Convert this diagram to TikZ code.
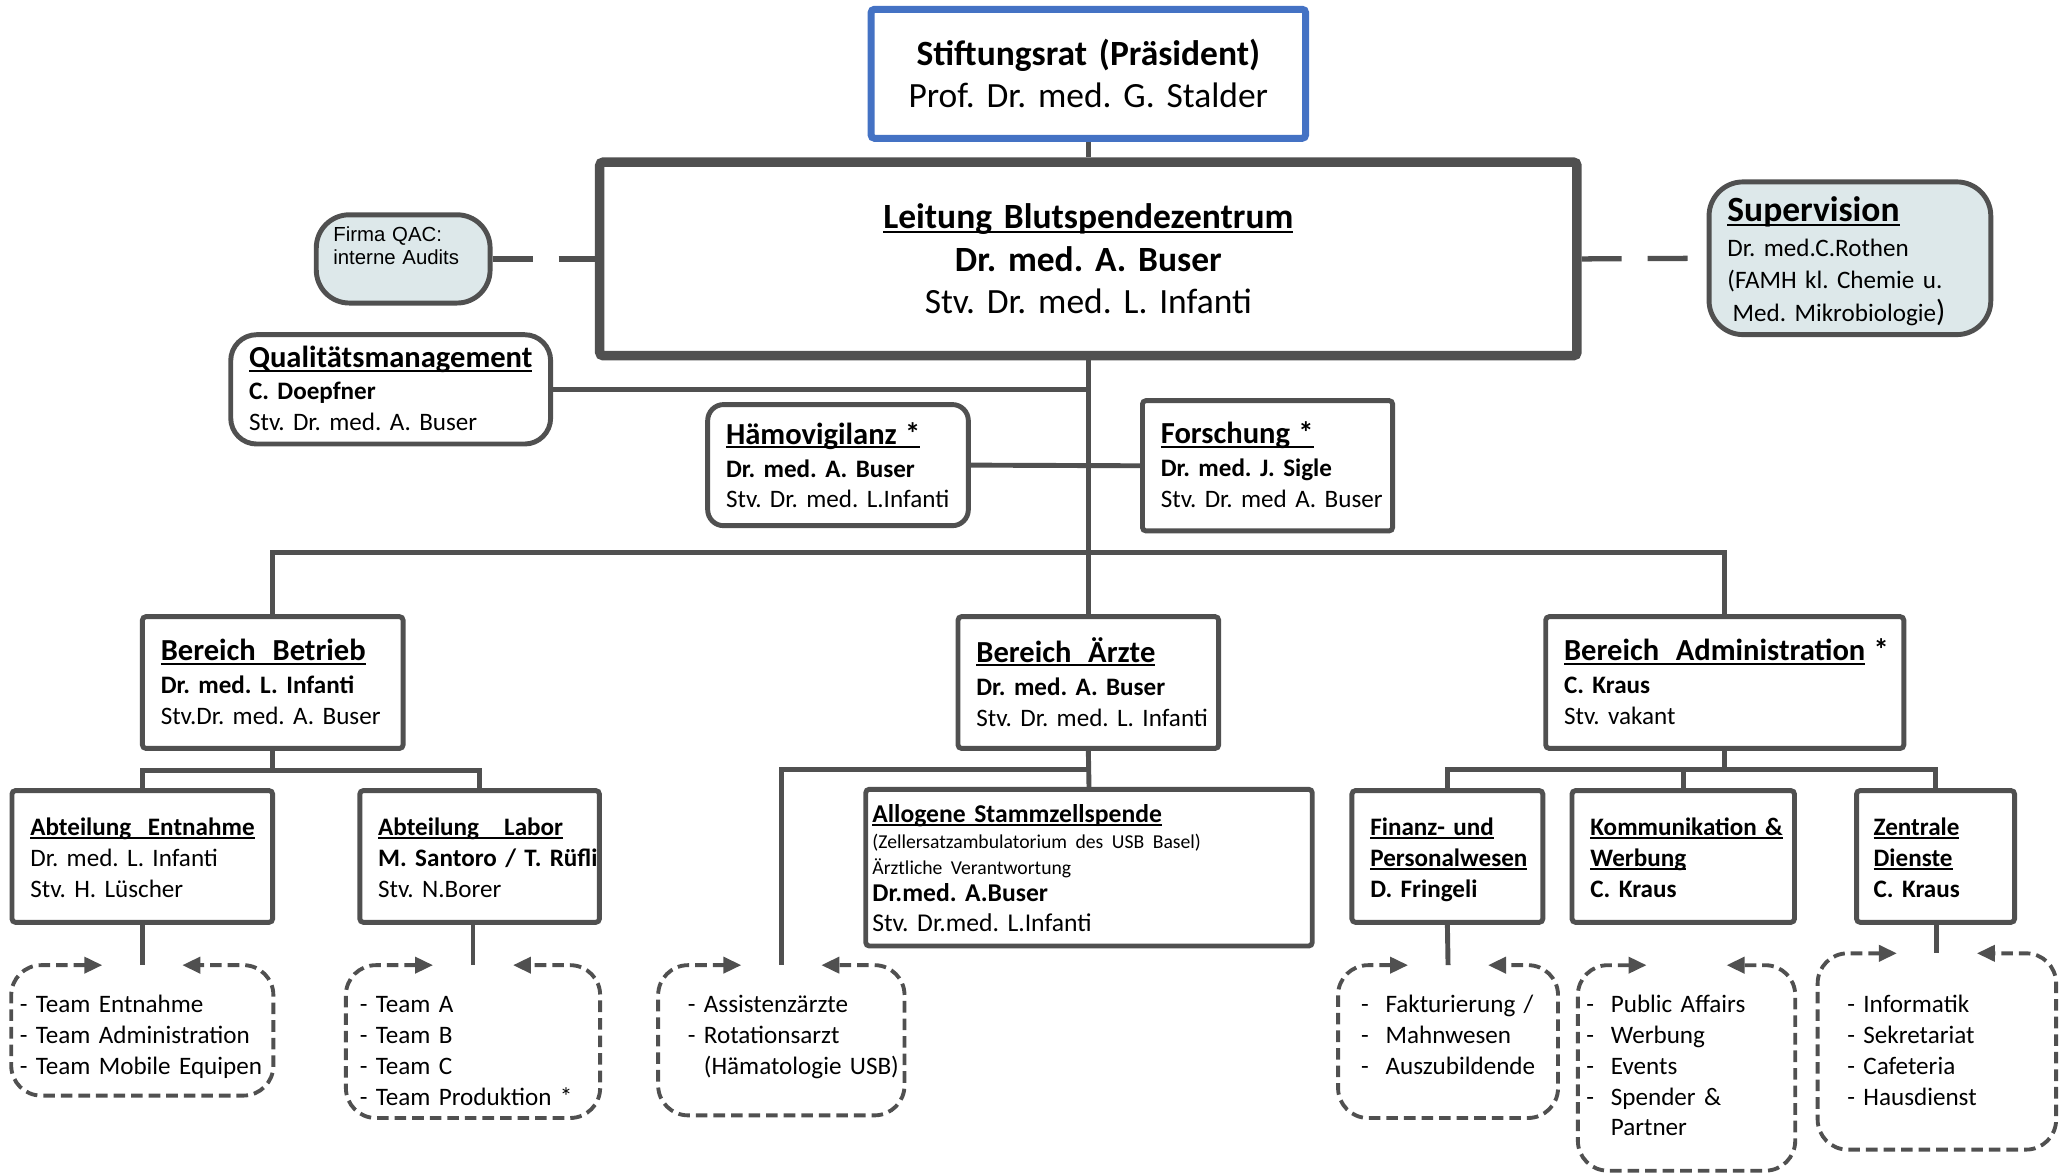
\documentclass[tikz,border=0pt]{standalone}
\usepackage{fontspec}
\setmainfont{Carlito}
\newfontfamily\arialfont{Liberation Sans}
\usepackage{tikz}
\usepackage{xcolor}
\usetikzlibrary{arrows.meta}
\frenchspacing
\definecolor{linegray}{RGB}{80,80,80}
\definecolor{boardblue}{RGB}{68,114,196}
\definecolor{auditfill}{RGB}{221,232,234}
\newcommand{\fbig}{\fontsize{10.1}{11.9}\selectfont}
\newcommand{\fmid}{\fontsize{8.7}{9.6}\selectfont}
\newcommand{\fsml}{\fontsize{7.15}{8.8}\selectfont}
\newcommand{\ftny}{\fontsize{5.6}{7}\selectfont}
\newcommand{\uln}[1]{\setbox0=\hbox{#1}\rlap{\rule[-0.13em]{\wd0}{0.065em}}\box0\relax}
\newcommand{\boxlines}[2][2.2pt]{\vbox{\kern#1\hbox{\begin{tabular}{@{}l@{}}#2\end{tabular}}}}
\tikzset{%
	orgline/.style  = {draw=linegray, line width=1.4pt},
	orgbox/.style   = {draw=linegray, line width=1.4pt, rectangle, rounded corners=1pt, fill=white, inner xsep=0.184cm, inner ysep=0pt, font=\fsml},
	softbox/.style  = {orgbox, rounded corners=0.26cm},
	notebox/.style  = {orgbox, fill=auditfill, rounded corners=0.34cm},
	teambox/.style  = {rectangle, inner ysep=0pt, font=\fsml}, % text of a dashed group
	teamline/.style = {draw=linegray, line width=1.1pt, dash pattern=on 3.3pt off 1.7pt, rounded corners=0.3cm, arrows={Triangle[length=0.18cm,width=0.16cm]-Triangle[length=0.18cm,width=0.16cm]}},
	linkline/.style = {draw=linegray, line width=1.5pt, dash pattern=on 0.4cm off 0.26cm},
}
\begin{document}
\begin{tikzpicture}[x=0.013176cm,y=-0.013176cm]
	\useasboundingbox (0,0) rectangle (1568,890);
	% top
	\node [orgbox, draw=boardblue, line width=2pt, font=\fbig, align=center, text width=3.98cm, minimum height=1.291cm] (stift) at (826,56) {\textbf{Stiftungsrat (Präsident)}\\ Prof. Dr. med. G. Stalder};
	\node [orgbox, line width=2.7pt, font=\fbig, align=center, text width=9.41cm, minimum height=1.937cm] (leit) at (826,196.5) {{\bfseries\uln{Leitung Blutspendezentrum}}\\[0.4pt] \textbf{Dr. med. A. Buser}\\ Stv. Dr. med. L. Infanti};
	\node [notebox, rounded corners=0.33cm, font=\arialfont\fontsize{5.8}{6.7}\selectfont, inner xsep=0.171cm, text width=1.397cm, minimum height=0.883cm] (qac) at (306,196.5) {\boxlines[1.5pt]{Firma QAC:\\ interne Audits\\[7.5pt]}};
	\node [notebox, text width=2.451cm, minimum height=1.528cm] (sup) at (1404,196) {\boxlines[3pt]{{\fbig\bfseries\uln{Supervision}}\\[1pt] Dr. med.C.Rothen\\[0.3pt] (FAMH kl. Chemie u.\\[0.4pt] \hspace{1.5pt}Med. Mikrobiologie{\fontsize{8.7}{8.8}\selectfont)}}};
	\node [softbox, text width=2.833cm, minimum height=1.094cm] (qm) at (296.5,295.5) {\boxlines{{\fmid\bfseries\uln{Qualitätsmanagement}}\\[0.3pt] \textbf{C. Doepfner}\\ Stv. Dr. med. A. Buser}};
	\node [softbox, rounded corners=0.16cm, text width=2.24cm, minimum height=1.212cm] (hamo) at (636,353) {\boxlines[2.6pt]{{\fmid\bfseries\uln{Hämovigilanz *}}\\[0.6pt] \textbf{Dr. med. A. Buser}\\ Stv. Dr. med. L.Infanti}};
	\node [orgbox, text width=2.135cm, minimum height=1.304cm] (forsch) at (962,353.5) {\boxlines{{\fmid\bfseries\uln{Forschung *}}\\[0.6pt] \textbf{Dr. med. J. Sigle}\\ Stv. Dr. med A. Buser}};
	
	% Bereiche
	\node [orgbox, text width=2.24cm, minimum height=1.318cm] (betr) at (207,518) {\boxlines{{\fmid\bfseries\uln{Bereich\ \ Betrieb}}\\[0.6pt] \textbf{Dr. med. L. Infanti}\\ Stv.Dr. med. A. Buser}};
	\node [orgbox, text width=2.24cm, minimum height=1.318cm] (aerz) at (826,518) {\boxlines{{\fmid\bfseries\uln{Bereich\ \ Ärzte}}\\[0.6pt] \textbf{Dr. med. A. Buser}\\ Stv. Dr. med. L. Infanti}};
	\node [orgbox, text width=3.215cm, minimum height=1.318cm] (adm) at (1309,518) {\boxlines{{\fmid\bfseries\uln{Bereich\ \ Administration} *}\\[0.6pt] \textbf{C. Kraus}\\ Stv. vakant}};
	
	% Abteilungen
	\node [orgbox, text width=2.24cm, minimum height=1.318cm] (ent) at (108,650) {\boxlines{\textbf{\uln{Abteilung\ \ Entnahme}}\\ Dr. med. L. Infanti\\ Stv. H. Lüscher}};
	\node [orgbox, text width=2.029cm, minimum height=1.318cm] (lab) at (364,650) {\boxlines{\textbf{\uln{Abteilung\ \ \ Labor}}\\ \textbf{M. Santoro / T. Rüfli}\\ Stv. N.Borer}};
	\node [orgbox, font=\fontsize{7.3}{7.5}\selectfont, inner xsep=0.066cm, text width=4.335cm, minimum height=1.568cm] (allo) at (826.5,658.5) {\boxlines{\textbf{\uln{Allogene Stammzellspende}}\\ {\ftny (Zellersatzambulatorium des USB Basel)}\\ {\ftny Ärztliche Verantwortung}\\ \textbf{Dr.med. A.Buser}\\[1.1pt] Stv. Dr.med. L.Infanti}};
	\node [orgbox, text width=1.542cm, minimum height=1.318cm] (fin) at (1098.5,650) {\boxlines{\textbf{\uln{Finanz- und}}\\ \textbf{\uln{Personalwesen}}\\ \textbf{D. Fringeli}}};
	\node [orgbox, text width=1.858cm, minimum height=1.318cm] (kom) at (1277.5,650) {\boxlines{\textbf{\uln{Kommunikation \&}}\\ \textbf{\uln{Werbung}}\\ \textbf{C. Kraus}}};
	\node [orgbox, inner xsep=0.171cm, text width=1.239cm, minimum height=1.318cm] (zen) at (1469,650) {\boxlines{\textbf{\uln{Zentrale}}\\ \textbf{\uln{Dienste}}\\ \textbf{C. Kraus}}};
	
	% Teams
	\node [teambox, inner xsep=0.079cm, text width=2.451cm, minimum height=1.291cm] (t1) at (108,782) {\boxlines{\rule{0pt}{8pt}- Team Entnahme\\ - Team Administration\\ - Team Mobile Equipen}};
	\node [teambox, inner xsep=0.132cm, text width=2.266cm, minimum height=1.515cm] (t2) at (359,790.5) {\boxlines{\rule{0pt}{10.3pt}- Team A\\ - Team B\\ - Team C\\ - Team Produktion *}};
	\node [teambox, inner xsep=0.29cm, text width=1.871cm, minimum height=1.489cm] (t3) at (593,789.5) {\boxlines{- Assistenzärzte\\ - Rotationsarzt\\ \phantom{- }(Hämatologie USB)\\[3.7pt]}};
	\node [teambox, inner xsep=0.224cm, text width=1.739cm, minimum height=1.515cm] (t4) at (1099,790.5) {\boxlines{-\ \ Fakturierung /\\ -\ \ Mahnwesen\\ -\ \ Auszubildende\\[4.5pt]}};
	\node [teambox, inner xsep=0.079cm, text width=2.003cm, minimum height=2.042cm] (t5) at (1280,810.5) {\boxlines{-\ \ Public Affairs\\ -\ \ Werbung\\ -\ \ Events\\ -\ \ Spender \&\\ \phantom{-\ \ }Partner\\[2.2pt]}};
	\node [teambox, inner xsep=0.29cm, text width=1.792cm, minimum height=1.95cm] (t6) at (1470,798) {\boxlines{- Informatik\\ - Sekretariat\\ - Cafeteria\\ - Hausdienst\\[1.5pt]}};
	
	\coordinate (barB) at (826,419);
	\coordinate (barE) at (207,585);
	\coordinate (barM) at (826,584);
	\coordinate (barA) at (1309,584);
	
	\draw[orgline] (stift.south) -- (leit.north);
	\draw[orgline] (leit.south) -- (aerz.north);
	\draw[orgline] (qm.east) -- (qm.east -| leit.south);
	\draw[orgline] (hamo.east) -- (forsch.west);
	\draw[orgline] (betr.north) |- (barB) -| (adm.north);
	\draw[orgline] (betr.south) -- (barE);
	\draw[orgline] (ent.north) |- (barE) -| (lab.north);
	\draw[orgline] (aerz.south) -- (allo.north);
	\draw[orgline] (barM) -| (t3.north);
	\draw[orgline] (adm.south) -- (barA);
	\draw[orgline] (fin.north) |- (barA) -| (zen.north);
	\draw[orgline] (kom.north) -- (kom.north |- barA);
	\draw[orgline] (ent.south) -- (t1.north);
	\draw[orgline] (t2.north |- lab.south) -- (t2.north);
	\draw[orgline] (fin.south) -- (t4.north);
	\draw[orgline] (t6.north |- zen.south) -- (t6.north);
	\draw[linkline] (qac.east) -- (leit.west);
	\draw[linkline] (leit.east) -- (sup.west);
	
	\foreach \team in {t1,t2,t3,t4,t5,t6}
		\draw[teamline] ([xshift=-0.4cm]\team.north) -- (\team.north west) -- (\team.south west) -- (\team.south east) -- (\team.north east) -- ([xshift=0.4cm]\team.north);
\end{tikzpicture}
\end{document}
